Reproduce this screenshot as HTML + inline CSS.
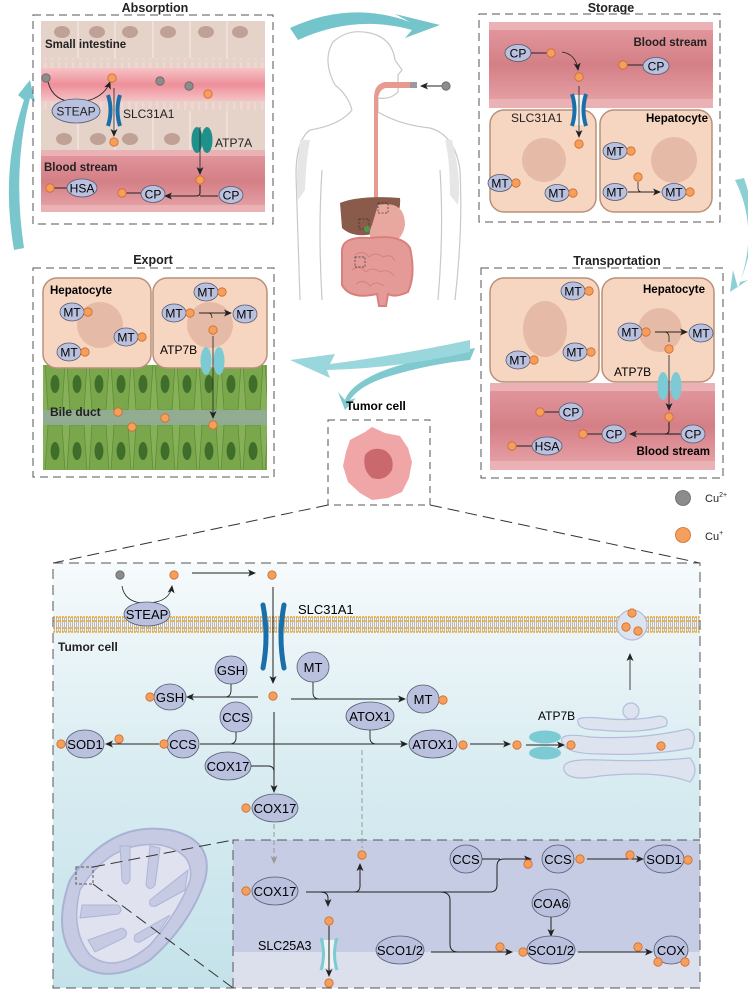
<!DOCTYPE html>
<html><head><meta charset="utf-8"><style>
html,body{margin:0;padding:0;background:#fff}
svg{display:block}
text{font-family:"Liberation Sans",sans-serif}
</style></head><body>
<svg width="748" height="991" viewBox="0 0 748 991" xmlns="http://www.w3.org/2000/svg">
<defs>
<marker id="ar" markerWidth="8" markerHeight="8" refX="7" refY="4" orient="auto" markerUnits="userSpaceOnUse"><path d="M0,0.5 L8,4 L0,7.5 L2,4z" fill="#222"/></marker>
<marker id="ag" markerWidth="8" markerHeight="8" refX="7" refY="4" orient="auto" markerUnits="userSpaceOnUse"><path d="M0,0.5 L8,4 L0,7.5 L2,4z" fill="#999"/></marker>
<linearGradient id="bg" x1="0" y1="0" x2="0" y2="1"><stop offset="0" stop-color="#f6fafc"/><stop offset="0.5" stop-color="#d8ecf1"/><stop offset="1" stop-color="#c4e2ea"/></linearGradient>
<linearGradient id="blood" x1="0" y1="0" x2="0" y2="1"><stop offset="0" stop-color="#e39aa0"/><stop offset="0.5" stop-color="#d47f86"/><stop offset="1" stop-color="#e8a6aa"/></linearGradient>
<linearGradient id="lumen" x1="0" y1="0" x2="0" y2="1"><stop offset="0" stop-color="#f5c3c6"/><stop offset="0.5" stop-color="#ee8f9a"/><stop offset="1" stop-color="#f5c3c6"/></linearGradient>
<linearGradient id="bile" x1="0" y1="0" x2="0" y2="1"><stop offset="0" stop-color="#82a56a"/><stop offset="0.5" stop-color="#93ad94"/><stop offset="1" stop-color="#82a56a"/></linearGradient>
<pattern id="mem" width="2" height="6" patternUnits="userSpaceOnUse"><rect width="2" height="6" fill="#eef3f5"/><rect width="1" height="6" fill="#b9b9b9"/></pattern>
<pattern id="villi" width="7" height="10" patternUnits="userSpaceOnUse"><rect width="7" height="10" fill="#e5d3ca"/><rect x="2" y="2" width="2.5" height="8" rx="1" fill="#f3d6d3"/></pattern>
<pattern id="green" width="22" height="52" patternUnits="userSpaceOnUse"><rect width="22" height="52" fill="#86b158"/><path d="M1,0 L21,0 L18,46 L4,46z" fill="#7aa74c" stroke="#5f8d3a" stroke-width="0.8"/><ellipse cx="11" cy="20" rx="4.5" ry="9" fill="#3f6e2a"/></pattern>
<g id="cu"><circle r="4.2" fill="#f4a05c" stroke="#d2692b" stroke-width="0.8"/></g>
<g id="cu2"><circle r="4.2" fill="#8c8c8c" stroke="#666" stroke-width="0.8"/></g>
</defs>

<!-- cycle arrows -->
<path d="M290,28 Q350,0 410,22 L395,14 L440,25 L405,38 L412,30 Q355,14 298,40z" fill="#74c4cb"/>
<path d="M735,180 Q760,230 738,288 L733,270 L730,292 L748,280 L740,282 Q762,228 744,178z" fill="#8cd0d6"/>
<path d="M14,250 Q0,170 24,100 L18,95 L30,80 L35,102 L30,98 Q12,170 24,248z" fill="#79c6cc"/>
<path d="M475,348 Q410,360 380,372 Q350,385 345,400 L338,392 L345,410 L356,398 L350,400 Q360,385 390,376 Q430,364 470,360z" fill="#7fc9cf"/>
<path d="M470,340 Q400,355 330,364 L335,354 L290,360 L330,378 L327,370 Q400,368 470,352z" fill="#9ad7dc"/>

<!-- human -->
<g fill="none" stroke="#c8c8c8" stroke-width="1.2">
<path d="M352,110 Q348,95 335,85 Q322,60 333,42 Q348,28 370,33 Q392,38 395,60 L402,70 L398,75 L398,92 Q390,100 378,98 L378,112 Q400,125 430,128 Q455,135 460,170 Q463,230 455,300"/>
<path d="M352,110 Q340,125 310,130 Q296,140 296,175 Q298,230 300,300"/>
<path d="M322,170 Q318,230 322,300"/><path d="M440,170 Q444,230 438,300"/>
</g>
<path d="M300,140 Q295,180 298,200 L305,190 Q306,160 310,140z" fill="#e6e6e6"/>
<path d="M452,140 Q462,180 458,205 L450,195 Q450,160 445,140z" fill="#e6e6e6"/>
<path d="M414,82 L385,82 Q374,84 374,98 L374,200 L378,200 L378,98 Q380,88 387,88 L414,88z" fill="#e79a90"/>
<rect x="410" y="82" width="7" height="6" fill="#9a9a9a"/>
<line x1="446" y1="86" x2="421" y2="86" stroke="#222" stroke-width="1" marker-end="url(#ar)"/>
<use href="#cu2" x="446" y="86"/>
<path d="M340,203 Q360,195 400,198 Q402,220 380,232 Q355,240 342,228z" fill="#8a5a4a"/>
<path d="M378,205 Q405,200 405,225 Q402,245 380,245 Q365,240 372,225z" fill="#e8a8a0"/>
<path d="M342,250 Q343,236 370,238 Q402,234 410,248 Q416,275 408,292 Q395,298 388,294 L386,306 L379,306 L377,294 Q350,300 342,285z" fill="#e49b97" stroke="#d9807e" stroke-width="2"/>
<path d="M355,255 q8,-6 14,2 q6,-6 14,0 q8,-4 12,4 M352,270 q8,-6 14,2 q6,-6 14,0 q8,-4 14,4 M356,284 q8,-6 14,2 q6,-6 14,0" fill="none" stroke="#d9807e" stroke-width="1"/>
<rect x="378" y="203" width="10" height="10" fill="none" stroke="#333" stroke-width="0.7" stroke-dasharray="2,1.5"/>
<rect x="359" y="219" width="10" height="10" fill="none" stroke="#333" stroke-width="0.7" stroke-dasharray="2,1.5"/>
<rect x="355" y="257" width="10" height="10" fill="none" stroke="#333" stroke-width="0.7" stroke-dasharray="2,1.5"/>
<circle cx="367" cy="229" r="3" fill="#4a9a4a"/>

<!-- ============ Absorption ============ -->
<text x="155" y="12" font-size="12.5" font-weight="bold" text-anchor="middle" fill="#222">Absorption</text>
<rect x="33" y="15" width="240" height="209" fill="none" stroke="#555" stroke-width="1" stroke-dasharray="8,5"/>
<rect x="41" y="21" width="224" height="130" fill="#e5d3ca"/>
<g stroke="#f4e8e2" stroke-width="1.2">
<line x1="78" y1="21" x2="78" y2="58"/><line x1="115" y1="21" x2="115" y2="58"/><line x1="153" y1="21" x2="153" y2="58"/><line x1="190" y1="21" x2="190" y2="58"/><line x1="227" y1="21" x2="227" y2="58"/>
<line x1="78" y1="108" x2="78" y2="150"/><line x1="115" y1="108" x2="115" y2="150"/><line x1="153" y1="108" x2="153" y2="150"/><line x1="190" y1="108" x2="190" y2="150"/><line x1="227" y1="108" x2="227" y2="150"/>
</g>
<g fill="#bfa196"><ellipse cx="62" cy="32" rx="8" ry="6"/><ellipse cx="97" cy="32" rx="8" ry="6"/><ellipse cx="130" cy="32" rx="8" ry="6"/><ellipse cx="168" cy="32" rx="8" ry="6"/><ellipse cx="206" cy="32" rx="8" ry="6"/><ellipse cx="240" cy="32" rx="8" ry="6"/>
<ellipse cx="64" cy="139" rx="8" ry="6"/><ellipse cx="98" cy="139" rx="8" ry="6"/><ellipse cx="130" cy="139" rx="8" ry="6"/><ellipse cx="172" cy="139" rx="8" ry="6"/></g>
<rect x="41" y="58" width="224" height="10" fill="url(#villi)"/>
<rect x="41" y="68" width="224" height="33" fill="url(#lumen)"/>
<rect x="41" y="101" width="224" height="10" fill="url(#villi)"/>
<rect x="41" y="150" width="224" height="62" fill="url(#blood)"/>
<rect x="41" y="150" width="224" height="6" fill="#eab2b4"/><rect x="41" y="205" width="224" height="7" fill="#eab2b4"/>
<text x="45" y="48" font-size="11.5" font-weight="bold" fill="#222">Small intestine</text>
<text x="44" y="171" font-size="11.5" font-weight="bold" fill="#222">Blood stream</text>
<path d="M48,82 Q55,108 90,100 Q105,95 110,82" fill="none" stroke="#222" stroke-width="0.9" marker-end="url(#ar)"/>
<use href="#cu2" x="46" y="78"/><use href="#cu" x="112" y="78"/><use href="#cu2" x="160" y="81"/><use href="#cu2" x="189" y="86"/><use href="#cu" x="208" y="94"/>
<ellipse cx="76" cy="111" rx="24" ry="12" fill="#b9c1de" stroke="#555b70" stroke-width="0.8"/><text x="76" y="115.5" font-size="12" text-anchor="middle" fill="#222">STEAP</text>
<path d="M108,95 Q113,110 108,126" stroke="#1b6fa8" stroke-width="4" fill="none"/><path d="M120,95 Q115,110 120,126" stroke="#1b6fa8" stroke-width="4" fill="none"/>
<text x="123" y="118" font-size="12" fill="#222">SLC31A1</text>
<line x1="114" y1="88" x2="114" y2="136" stroke="#222" stroke-width="0.8" marker-end="url(#ar)"/><use href="#cu" x="114" y="142"/>
<ellipse cx="197" cy="140" rx="5.5" ry="13" fill="#20908a"/><ellipse cx="207" cy="140" rx="5.5" ry="13" fill="#20908a"/>
<text x="215" y="147" font-size="12" fill="#222">ATP7A</text>
<line x1="200" y1="127" x2="200" y2="174" stroke="#222" stroke-width="0.8" marker-end="url(#ar)"/><use href="#cu" x="200" y="180"/>
<path d="M200,185 L200,193 Q200,196 196,196 L165,196" fill="none" stroke="#222" stroke-width="1.1" marker-end="url(#ar)"/>
<line x1="218" y1="196" x2="200" y2="196" stroke="#222" stroke-width="1.1"/>
<line x1="54" y1="188" x2="70" y2="188" stroke="#222"/><use href="#cu" x="50" y="188"/>
<ellipse cx="82" cy="188" rx="15" ry="9" fill="#b9c1de" stroke="#555b70" stroke-width="0.8"/><text x="82" y="192.5" font-size="12" text-anchor="middle">HSA</text>
<line x1="126" y1="193" x2="141" y2="193" stroke="#222"/><use href="#cu" x="122" y="193"/>
<ellipse cx="153" cy="194" rx="12" ry="8.5" fill="#b9c1de" stroke="#555b70" stroke-width="0.8"/><text x="153" y="198.5" font-size="12" text-anchor="middle">CP</text>
<ellipse cx="231" cy="195" rx="12" ry="8.5" fill="#b9c1de" stroke="#555b70" stroke-width="0.8"/><text x="231" y="199.5" font-size="12" text-anchor="middle">CP</text>

<!-- ============ Storage ============ -->
<text x="611" y="12" font-size="12.5" font-weight="bold" text-anchor="middle" fill="#222">Storage</text>
<rect x="479" y="14" width="241" height="208" fill="none" stroke="#555" stroke-width="1" stroke-dasharray="8,5"/>
<rect x="489" y="22" width="224" height="86" fill="url(#blood)"/>
<rect x="489" y="22" width="224" height="8" fill="#eab2b4"/><rect x="489" y="99" width="224" height="9" fill="#eab2b4"/>
<text x="707" y="46" font-size="11.5" font-weight="bold" text-anchor="end" fill="#222">Blood stream</text>
<rect x="490" y="110" width="106" height="102" rx="14" fill="#f6d5c1" stroke="#b99079" stroke-width="1.5"/>
<rect x="600" y="110" width="112" height="102" rx="14" fill="#f6d5c1" stroke="#b99079" stroke-width="1.5"/>
<circle cx="544" cy="160" r="22" fill="#e5bba8"/><circle cx="674" cy="160" r="23" fill="#e5bba8"/>
<text x="708" y="122" font-size="11.5" font-weight="bold" text-anchor="end">Hepatocyte</text>
<ellipse cx="518" cy="53" rx="13" ry="8.5" fill="#b9c1de" stroke="#555b70" stroke-width="0.8"/><text x="518" y="57.5" font-size="12" text-anchor="middle">CP</text>
<line x1="531" y1="53" x2="547" y2="53" stroke="#222"/><use href="#cu" x="551" y="53"/>
<path d="M562,52 Q576,54 578,70" fill="none" stroke="#222" stroke-width="0.8" marker-end="url(#ar)"/><use href="#cu" x="579" y="77"/>
<line x1="627" y1="65" x2="643" y2="65" stroke="#222"/><use href="#cu" x="623" y="65"/>
<ellipse cx="656" cy="66" rx="13" ry="8.5" fill="#b9c1de" stroke="#555b70" stroke-width="0.8"/><text x="656" y="70.5" font-size="12" text-anchor="middle">CP</text>
<rect x="574" y="95" width="10" height="30" fill="#eef2f2"/>
<path d="M572,94 Q577,110 572,126" stroke="#1b6fa8" stroke-width="4" fill="none"/><path d="M586,94 Q581,110 586,126" stroke="#1b6fa8" stroke-width="4" fill="none"/>
<line x1="579" y1="86" x2="579" y2="137" stroke="#222" stroke-width="0.8" marker-end="url(#ar)"/><use href="#cu" x="579" y="144"/>
<text x="511" y="122" font-size="12" fill="#222">SLC31A1</text>
<ellipse cx="500" cy="183" rx="12" ry="8.5" fill="#b9c1de" stroke="#555b70" stroke-width="0.8"/><text x="500" y="187.5" font-size="12" text-anchor="middle">MT</text><use href="#cu" x="516" y="183"/>
<ellipse cx="557" cy="193" rx="12" ry="8.5" fill="#b9c1de" stroke="#555b70" stroke-width="0.8"/><text x="557" y="197.5" font-size="12" text-anchor="middle">MT</text><use href="#cu" x="573" y="193"/>
<ellipse cx="615" cy="151" rx="12" ry="8.5" fill="#b9c1de" stroke="#555b70" stroke-width="0.8"/><text x="615" y="155.5" font-size="12" text-anchor="middle">MT</text><use href="#cu" x="631" y="151"/>
<ellipse cx="615" cy="192" rx="12" ry="8.5" fill="#b9c1de" stroke="#555b70" stroke-width="0.8"/><text x="615" y="196.5" font-size="12" text-anchor="middle">MT</text>
<use href="#cu" x="638" y="177"/><path d="M638,182 L638,188 Q638,192 642,192" fill="none" stroke="#222" stroke-width="0.8"/>
<line x1="628" y1="192" x2="660" y2="192" stroke="#222" stroke-width="1" marker-end="url(#ar)"/>
<ellipse cx="674" cy="192" rx="12" ry="8.5" fill="#b9c1de" stroke="#555b70" stroke-width="0.8"/><text x="674" y="196.5" font-size="12" text-anchor="middle">MT</text><use href="#cu" x="690" y="192"/>

<!-- ============ Export ============ -->
<text x="153" y="264" font-size="12.5" font-weight="bold" text-anchor="middle" fill="#222">Export</text>
<rect x="33" y="268" width="241" height="209" fill="none" stroke="#555" stroke-width="1" stroke-dasharray="8,5"/>
<rect x="43" y="365" width="224" height="105" fill="url(#bile)"/>
<rect x="43" y="365" width="224" height="45" fill="url(#green)"/>
<g transform="translate(0,470) scale(1,-1) translate(0,-365)"><rect x="43" y="365" width="224" height="45" fill="url(#green)"/></g>
<rect x="43" y="278" width="108" height="90" rx="14" fill="#f6d5c1" stroke="#b99079" stroke-width="1.5"/>
<rect x="153" y="278" width="114" height="90" rx="14" fill="#f6d5c1" stroke="#b99079" stroke-width="1.5"/>
<circle cx="100" cy="325" r="23" fill="#e5bba8"/><circle cx="210" cy="325" r="23" fill="#e5bba8"/>
<text x="50" y="294" font-size="11.5" font-weight="bold">Hepatocyte</text>
<ellipse cx="72" cy="312" rx="12" ry="9" fill="#b9c1de" stroke="#555b70" stroke-width="0.8"/><text x="72" y="316.5" font-size="12" text-anchor="middle">MT</text><use href="#cu" x="88" y="312"/>
<ellipse cx="126" cy="337" rx="12" ry="9" fill="#b9c1de" stroke="#555b70" stroke-width="0.8"/><text x="126" y="341.5" font-size="12" text-anchor="middle">MT</text><use href="#cu" x="142" y="337"/>
<ellipse cx="69" cy="352" rx="12" ry="9" fill="#b9c1de" stroke="#555b70" stroke-width="0.8"/><text x="69" y="356.5" font-size="12" text-anchor="middle">MT</text><use href="#cu" x="85" y="352"/>
<ellipse cx="206" cy="292" rx="12" ry="9" fill="#b9c1de" stroke="#555b70" stroke-width="0.8"/><text x="206" y="296.5" font-size="12" text-anchor="middle">MT</text><use href="#cu" x="222" y="292"/>
<ellipse cx="174" cy="313" rx="12" ry="9" fill="#b9c1de" stroke="#555b70" stroke-width="0.8"/><text x="174" y="317.5" font-size="12" text-anchor="middle">MT</text><use href="#cu" x="190" y="313"/>
<ellipse cx="245" cy="314" rx="12" ry="9" fill="#b9c1de" stroke="#555b70" stroke-width="0.8"/><text x="245" y="318.5" font-size="12" text-anchor="middle">MT</text>
<path d="M199,313 L208,313 Q212,313 212,318" fill="none" stroke="#222" stroke-width="0.8"/>
<line x1="199" y1="313" x2="231" y2="313" stroke="#222" stroke-width="1" marker-end="url(#ar)"/>
<use href="#cu" x="213" y="330"/>
<ellipse cx="206" cy="361" rx="5.5" ry="14" fill="#7ccbd4"/><ellipse cx="219" cy="361" rx="5.5" ry="14" fill="#7ccbd4"/>
<text x="160" y="354" font-size="12">ATP7B</text>
<line x1="213" y1="336" x2="213" y2="418" stroke="#222" stroke-width="0.8" marker-end="url(#ar)"/><use href="#cu" x="213" y="425"/>
<text x="50" y="416" font-size="12" font-weight="bold" fill="#222">Bile duct</text>
<use href="#cu" x="118" y="412"/><use href="#cu" x="165" y="418"/><use href="#cu" x="132" y="427"/>

<!-- ============ Transportation ============ -->
<text x="617" y="265" font-size="12.5" font-weight="bold" text-anchor="middle" fill="#222">Transportation</text>
<rect x="481" y="268" width="242" height="210" fill="none" stroke="#555" stroke-width="1" stroke-dasharray="8,5"/>
<rect x="490" y="383" width="225" height="87" fill="url(#blood)"/>
<rect x="490" y="383" width="225" height="8" fill="#eab2b4"/><rect x="490" y="461" width="225" height="9" fill="#eab2b4"/>
<rect x="490" y="278" width="109" height="104" rx="14" fill="#f6d5c1" stroke="#b99079" stroke-width="1.5"/>
<rect x="602" y="278" width="112" height="104" rx="14" fill="#f6d5c1" stroke="#b99079" stroke-width="1.5"/>
<ellipse cx="545" cy="329" rx="22" ry="28" fill="#e5bba8"/><circle cx="660" cy="330" r="22" fill="#e5bba8"/>
<text x="705" y="293" font-size="11.5" font-weight="bold" text-anchor="end">Hepatocyte</text>
<ellipse cx="573" cy="291" rx="12" ry="9" fill="#b9c1de" stroke="#555b70" stroke-width="0.8"/><text x="573" y="295.5" font-size="12" text-anchor="middle">MT</text><use href="#cu" x="589" y="291"/>
<ellipse cx="518" cy="360" rx="12" ry="9" fill="#b9c1de" stroke="#555b70" stroke-width="0.8"/><text x="518" y="364.5" font-size="12" text-anchor="middle">MT</text><use href="#cu" x="534" y="360"/>
<ellipse cx="575" cy="352" rx="12" ry="9" fill="#b9c1de" stroke="#555b70" stroke-width="0.8"/><text x="575" y="356.5" font-size="12" text-anchor="middle">MT</text><use href="#cu" x="591" y="352"/>
<ellipse cx="630" cy="332" rx="12" ry="9" fill="#b9c1de" stroke="#555b70" stroke-width="0.8"/><text x="630" y="336.5" font-size="12" text-anchor="middle">MT</text><use href="#cu" x="646" y="332"/>
<ellipse cx="701" cy="333" rx="12" ry="9" fill="#b9c1de" stroke="#555b70" stroke-width="0.8"/><text x="701" y="337.5" font-size="12" text-anchor="middle">MT</text>
<line x1="655" y1="332" x2="687" y2="332" stroke="#222" stroke-width="1" marker-end="url(#ar)"/>
<path d="M664,332 Q669,332 669,337 L669,342" fill="none" stroke="#222" stroke-width="0.8"/><use href="#cu" x="669" y="349"/>
<ellipse cx="663" cy="386" rx="5.5" ry="14" fill="#7ccbd4"/><ellipse cx="676" cy="386" rx="5.5" ry="14" fill="#7ccbd4"/>
<text x="614" y="376" font-size="12">ATP7B</text>
<line x1="669" y1="355" x2="669" y2="410" stroke="#222" stroke-width="0.8" marker-end="url(#ar)"/><use href="#cu" x="669" y="417"/>
<path d="M669,422 L669,430 Q669,434 665,434 L630,434" fill="none" stroke="#222" stroke-width="1.1" marker-end="url(#ar)"/>
<line x1="681" y1="434" x2="665" y2="434" stroke="#222" stroke-width="1.1"/>
<ellipse cx="571" cy="412" rx="12" ry="9" fill="#b9c1de" stroke="#555b70" stroke-width="0.8"/><text x="571" y="416.5" font-size="12" text-anchor="middle">CP</text><line x1="544" y1="412" x2="559" y2="412" stroke="#222"/><use href="#cu" x="540" y="412"/>
<ellipse cx="614" cy="434" rx="12" ry="9" fill="#b9c1de" stroke="#555b70" stroke-width="0.8"/><text x="614" y="438.5" font-size="12" text-anchor="middle">CP</text><line x1="587" y1="434" x2="602" y2="434" stroke="#222"/><use href="#cu" x="583" y="434"/>
<ellipse cx="693" cy="434" rx="12" ry="9" fill="#b9c1de" stroke="#555b70" stroke-width="0.8"/><text x="693" y="438.5" font-size="12" text-anchor="middle">CP</text>
<ellipse cx="547" cy="446" rx="15" ry="9" fill="#b9c1de" stroke="#555b70" stroke-width="0.8"/><text x="547" y="450.5" font-size="12" text-anchor="middle">HSA</text><line x1="516" y1="446" x2="532" y2="446" stroke="#222"/><use href="#cu" x="512" y="446"/>
<text x="710" y="455" font-size="11.5" font-weight="bold" text-anchor="end">Blood stream</text>

<!-- tumor cell -->
<text x="376" y="410" font-size="12" font-weight="bold" text-anchor="middle">Tumor cell</text>
<rect x="328" y="420" width="102" height="85" fill="none" stroke="#555" stroke-width="1" stroke-dasharray="7,5"/>
<path d="M350,440 L365,432 L372,427 L385,433 L400,436 L408,448 L412,462 L409,478 L402,492 L388,498 L372,500 L360,493 L348,482 L343,466 L346,452z" fill="#f0a5a6"/>
<path d="M365,455 Q372,446 384,450 Q395,456 392,470 Q385,482 372,478 Q362,470 365,455z" fill="#c9696d"/>
<line x1="328" y1="505" x2="53" y2="563" stroke="#333" stroke-width="1" stroke-dasharray="12,6"/>
<line x1="430" y1="505" x2="700" y2="563" stroke="#333" stroke-width="1" stroke-dasharray="12,6"/>

<!-- legend -->
<circle cx="683" cy="498" r="7.5" fill="#8c8c8c" stroke="#666" stroke-width="0.8"/><text x="705" y="502" font-size="11" fill="#222">Cu<tspan font-size="7" dy="-5">2+</tspan></text>
<circle cx="683" cy="535" r="7.5" fill="#f4a05c" stroke="#d2692b" stroke-width="0.8"/><text x="705" y="540" font-size="11" fill="#222">Cu<tspan font-size="7" dy="-5">+</tspan></text>

<!-- ============ bottom panel ============ -->
<rect x="53" y="563" width="647" height="425" fill="url(#bg)"/>
<rect x="53" y="617" width="647" height="15" fill="url(#mem)"/>
<g stroke="#f2a51d" stroke-width="1.6" stroke-dasharray="2,1"><line x1="53" y1="617" x2="700" y2="617"/><line x1="53" y1="621" x2="700" y2="621"/><line x1="53" y1="628" x2="700" y2="628"/><line x1="53" y1="632" x2="700" y2="632"/></g>
<text x="58" y="651" font-size="12" font-weight="bold" fill="#222">Tumor cell</text>
<!-- mitochondrion -->
<path d="M70,880 Q110,820 170,830 Q215,840 205,880 Q190,925 150,960 Q110,985 80,965 Q50,935 70,880z" fill="#c6cbe3" stroke="#aab2d4" stroke-width="2"/>
<path d="M80,890 Q110,840 160,845 Q195,852 190,880 Q180,910 150,945 Q115,975 90,955 Q70,930 80,890z" fill="#e0e2f0" stroke="#aeb5d6" stroke-width="1.5"/>
<g fill="#c6cbe3" stroke="#aeb5d6" stroke-width="1">
<path d="M120,846 L122,880 Q126,888 130,880 L130,846z"/>
<path d="M150,846 L146,885 Q150,892 155,885 L160,848z"/>
<path d="M188,870 L150,900 Q148,908 156,906 L185,890z"/>
<path d="M82,905 L118,905 Q124,910 118,914 L80,918z"/>
<path d="M88,940 L122,928 Q130,932 124,938 L95,952z"/>
<path d="M170,915 L135,935 Q132,943 140,942 L160,930z"/>
</g>
<rect x="76" y="867" width="17" height="17" fill="none" stroke="#555" stroke-width="1" stroke-dasharray="3,2"/>
<line x1="93" y1="867" x2="233" y2="840" stroke="#333" stroke-dasharray="12,6"/>
<line x1="93" y1="884" x2="233" y2="988" stroke="#333" stroke-dasharray="12,6"/>
<!-- mito zoom box -->
<rect x="233" y="840" width="467" height="112" fill="#c6cce3"/>
<rect x="233" y="952" width="467" height="36" fill="#dcdfec"/>
<rect x="53" y="563" width="647" height="425" fill="none" stroke="#555" stroke-width="1" stroke-dasharray="10,6"/>
<path d="M233,988 L233,840 L700,840" fill="none" stroke="#555" stroke-width="1" stroke-dasharray="10,6"/>

<!-- top entry -->
<use href="#cu2" x="120" y="575"/><use href="#cu" x="174" y="575"/><use href="#cu" x="272" y="575"/>
<line x1="192" y1="573" x2="255" y2="573" stroke="#222" stroke-width="1" marker-end="url(#ar)"/>
<path d="M122,586 Q125,604 148,603 Q170,602 172,586" fill="none" stroke="#222" stroke-width="0.8" marker-end="url(#ar)"/>
<ellipse cx="147" cy="614" rx="23" ry="12" fill="#b9c1de" stroke="#555b70" stroke-width="0.8"/><text x="147" y="619" font-size="13" text-anchor="middle">STEAP</text>
<path d="M263,605 Q269,637 263,668" stroke="#1b6fa8" stroke-width="5" fill="none" stroke-linecap="round"/><path d="M284,605 Q278,637 284,668" stroke="#1b6fa8" stroke-width="5" fill="none" stroke-linecap="round"/>
<text x="298" y="614" font-size="13">SLC31A1</text>
<line x1="273" y1="587" x2="273" y2="683" stroke="#222" stroke-width="1" marker-end="url(#ar)"/><use href="#cu" x="273" y="696"/>
<!-- GSH -->
<ellipse cx="231" cy="670" rx="16" ry="14" fill="#b9c1de" stroke="#555b70" stroke-width="0.8"/><text x="231" y="675" font-size="13" text-anchor="middle">GSH</text>
<path d="M231,684 L231,690 Q231,697 225,697" fill="none" stroke="#222" stroke-width="0.9"/>
<ellipse cx="170" cy="697" rx="16" ry="13" fill="#b9c1de" stroke="#555b70" stroke-width="0.8"/><text x="170" y="702" font-size="13" text-anchor="middle">GSH</text><use href="#cu" x="150" y="697"/>
<line x1="258" y1="697" x2="187" y2="697" stroke="#222" stroke-width="1.1" marker-end="url(#ar)"/>
<!-- MT -->
<ellipse cx="313" cy="667" rx="16" ry="15" fill="#b9c1de" stroke="#555b70" stroke-width="0.8"/><text x="313" y="672" font-size="13" text-anchor="middle">MT</text>
<path d="M313,682 L313,693 Q313,699 320,699" fill="none" stroke="#222" stroke-width="0.9"/>
<line x1="291" y1="699" x2="405" y2="699" stroke="#222" stroke-width="1.1" marker-end="url(#ar)"/>
<ellipse cx="423" cy="699" rx="16" ry="14" fill="#b9c1de" stroke="#555b70" stroke-width="0.8"/><text x="423" y="704" font-size="13" text-anchor="middle">MT</text><use href="#cu" x="443" y="700"/>
<!-- main vertical -->
<line x1="274" y1="712" x2="274" y2="792" stroke="#222" stroke-width="1" marker-end="url(#ar)"/>
<!-- CCS -->
<ellipse cx="236" cy="717" rx="16" ry="15" fill="#b9c1de" stroke="#555b70" stroke-width="0.8"/><text x="236" y="722" font-size="13" text-anchor="middle">CCS</text>
<path d="M236,732 L236,738 Q236,744 229,744" fill="none" stroke="#222" stroke-width="0.9"/>
<line x1="200" y1="744" x2="407" y2="744" stroke="#222" stroke-width="1.1" marker-end="url(#ar)"/>
<ellipse cx="183" cy="744" rx="16" ry="14" fill="#b9c1de" stroke="#555b70" stroke-width="0.8"/><text x="183" y="749" font-size="13" text-anchor="middle">CCS</text><use href="#cu" x="164" y="744"/>
<ellipse cx="85" cy="744" rx="19" ry="14" fill="#b9c1de" stroke="#555b70" stroke-width="0.8"/><text x="85" y="749" font-size="13" text-anchor="middle">SOD1</text><use href="#cu" x="61" y="744"/><use href="#cu" x="119" y="739"/>
<line x1="159" y1="744" x2="106" y2="744" stroke="#222" stroke-width="1.1" marker-end="url(#ar)"/>
<!-- ATOX1 -->
<ellipse cx="370" cy="716" rx="24" ry="14" fill="#b9c1de" stroke="#555b70" stroke-width="0.8"/><text x="370" y="721" font-size="13" text-anchor="middle">ATOX1</text>
<path d="M370,730 L370,738 Q370,744 377,744" fill="none" stroke="#222" stroke-width="0.9"/>
<ellipse cx="433" cy="744" rx="24" ry="14" fill="#b9c1de" stroke="#555b70" stroke-width="0.8"/><text x="433" y="749" font-size="13" text-anchor="middle">ATOX1</text><use href="#cu" x="463" y="745"/>
<line x1="470" y1="744" x2="510" y2="744" stroke="#222" stroke-width="1.1" marker-end="url(#ar)"/><use href="#cu" x="517" y="745"/>
<!-- Golgi -->
<circle cx="632" cy="625" r="15" fill="#dde4f0" stroke="#b5bddb" stroke-width="1.2"/>
<use href="#cu" x="632" y="613"/><use href="#cu" x="626" y="627"/><use href="#cu" x="638" y="631"/>
<line x1="630" y1="690" x2="630" y2="654" stroke="#444" stroke-width="1" marker-end="url(#ar)"/>
<circle cx="631" cy="711" r="8" fill="#dde4f0" stroke="#b5bddb" stroke-width="1.2"/>
<path d="M578,722 Q575,716 600,718 Q630,722 660,716 Q670,718 666,726 Q640,734 600,730 Q578,730 578,722z" fill="#dde4f0" stroke="#b5bddb" stroke-width="1.2"/>
<path d="M562,742 Q558,732 590,737 Q640,740 688,729 Q698,733 692,748 Q650,756 600,754 Q565,754 562,742z" fill="#dde4f0" stroke="#b5bddb" stroke-width="1.2"/>
<path d="M564,770 Q560,758 600,760 Q650,762 690,758 Q700,770 690,782 Q660,770 600,776 Q568,782 564,770z" fill="#dde4f0" stroke="#b5bddb" stroke-width="1.2"/>
<ellipse cx="545" cy="737" rx="16" ry="6.5" fill="#7ccbd4"/><ellipse cx="545" cy="753" rx="16" ry="6.5" fill="#7ccbd4"/>
<text x="538" y="720" font-size="12">ATP7B</text>
<line x1="526" y1="745" x2="564" y2="745" stroke="#222" stroke-width="0.9" marker-end="url(#ar)"/><use href="#cu" x="571" y="745"/><use href="#cu" x="661" y="746"/>
<!-- COX17 -->
<ellipse cx="228" cy="766" rx="23" ry="14" fill="#b9c1de" stroke="#555b70" stroke-width="0.8"/><text x="228" y="771" font-size="13" text-anchor="middle">COX17</text>
<path d="M251,766 L268,766 Q274,766 274,772" fill="none" stroke="#222" stroke-width="0.9"/>
<ellipse cx="275" cy="808" rx="23" ry="14" fill="#b9c1de" stroke="#555b70" stroke-width="0.8"/><text x="275" y="813" font-size="13" text-anchor="middle">COX17</text><use href="#cu" x="246" y="808"/>
<line x1="274" y1="824" x2="274" y2="863" stroke="#999" stroke-width="1" stroke-dasharray="5,3" marker-end="url(#ag)"/>
<line x1="362" y1="750" x2="362" y2="848" stroke="#999" stroke-width="1" stroke-dasharray="5,3"/>
<!-- mito box contents -->
<use href="#cu" x="362" y="855"/>
<path d="M306,892 L354,892 Q360,892 360,886 L360,864" fill="none" stroke="#222" stroke-width="1" marker-end="url(#ar)"/>
<ellipse cx="275" cy="891" rx="23" ry="14" fill="#b9c1de" stroke="#555b70" stroke-width="0.8"/><text x="275" y="896" font-size="13" text-anchor="middle">COX17</text><use href="#cu" x="246" y="891"/>
<path d="M354,892 L490,892 Q497,892 497,885 L497,866 Q497,859 504,859 L531,859" fill="none" stroke="#222" stroke-width="1" marker-end="url(#ar)"/>
<path d="M440,892 Q450,892 450,900 L450,944 Q450,952 458,952" fill="none" stroke="#222" stroke-width="1"/>
<path d="M320,892 Q328,892 328,898 L328,906" fill="none" stroke="#222" stroke-width="1" marker-end="url(#ar)"/>
<use href="#cu" x="329" y="921"/>
<rect x="324" y="940" width="10" height="28" fill="#eef2f2"/>
<path d="M321,938 Q326,954 321,970" stroke="#7ccbd4" stroke-width="3" fill="none"/><path d="M337,938 Q332,954 337,970" stroke="#7ccbd4" stroke-width="3" fill="none"/>
<line x1="329" y1="926" x2="329" y2="976" stroke="#222" stroke-width="1" marker-end="url(#ar)"/><use href="#cu" x="329" y="983"/>
<text x="258" y="950" font-size="12.5">SLC25A3</text>
<ellipse cx="466" cy="859" rx="16" ry="14" fill="#b9c1de" stroke="#555b70" stroke-width="0.8"/><text x="466" y="864" font-size="13" text-anchor="middle">CCS</text>
<line x1="482" y1="859" x2="500" y2="859" stroke="#222" stroke-width="1"/>
<ellipse cx="558" cy="859" rx="16" ry="14" fill="#b9c1de" stroke="#555b70" stroke-width="0.8"/><text x="558" y="864" font-size="13" text-anchor="middle">CCS</text><use href="#cu" x="528" y="864"/><use href="#cu" x="580" y="859"/>
<line x1="587" y1="859" x2="643" y2="859" stroke="#222" stroke-width="1" marker-end="url(#ar)"/><use href="#cu" x="630" y="855"/>
<ellipse cx="664" cy="859" rx="20" ry="14" fill="#b9c1de" stroke="#555b70" stroke-width="0.8"/><text x="664" y="864" font-size="13" text-anchor="middle">SOD1</text><use href="#cu" x="688" y="860"/>
<ellipse cx="551" cy="903" rx="19" ry="14" fill="#b9c1de" stroke="#555b70" stroke-width="0.8"/><text x="551" y="908" font-size="13" text-anchor="middle">COA6</text>
<line x1="551" y1="917" x2="551" y2="936" stroke="#222" stroke-width="1" marker-end="url(#ar)"/>
<ellipse cx="400" cy="950" rx="24" ry="14" fill="#b9c1de" stroke="#555b70" stroke-width="0.8"/><text x="400" y="955" font-size="13" text-anchor="middle">SCO1/2</text>
<line x1="431" y1="952" x2="512" y2="952" stroke="#222" stroke-width="1" marker-end="url(#ar)"/>
<use href="#cu" x="500" y="947"/>
<ellipse cx="551" cy="950" rx="24" ry="14" fill="#b9c1de" stroke="#555b70" stroke-width="0.8"/><text x="551" y="955" font-size="13" text-anchor="middle">SCO1/2</text><use href="#cu" x="523" y="952"/>
<line x1="578" y1="952" x2="652" y2="952" stroke="#222" stroke-width="1" marker-end="url(#ar)"/><use href="#cu" x="638" y="947"/>
<ellipse cx="671" cy="950" rx="17" ry="14" fill="#b9c1de" stroke="#555b70" stroke-width="0.8"/><text x="671" y="955" font-size="13" text-anchor="middle">COX</text><use href="#cu" x="658" y="962"/><use href="#cu" x="685" y="962"/>
</svg>
</body></html>
